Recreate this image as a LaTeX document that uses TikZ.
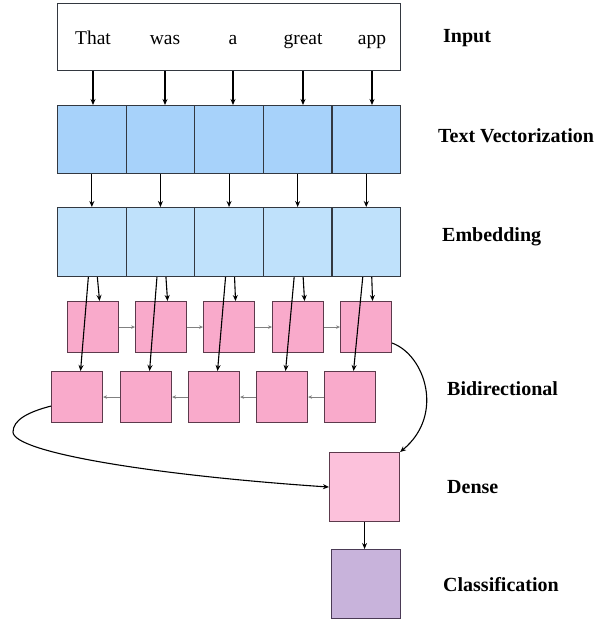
\documentclass[tikz,border=0pt]{standalone}
\usepackage{fontspec}
\setmainfont{Liberation Serif}
\usetikzlibrary{arrows.meta}
\definecolor{tvblue}{HTML}{A7D2FA}
\definecolor{embblue}{HTML}{BFE1FB}
\definecolor{bluedraw}{HTML}{333840}
\definecolor{rnnpink}{HTML}{F9AACB}
\definecolor{pinkdraw}{HTML}{5C3A4C}
\definecolor{densepink}{HTML}{FCC1DB}
\definecolor{classviolet}{HTML}{C8B3DB}
\definecolor{classdraw}{HTML}{4A3A55}
\definecolor{thingray}{HTML}{808080}
\begin{document}
\begin{tikzpicture}[x=1pt,y=-1pt,
  cell/.style={draw=bluedraw,line width=1.1pt,inner sep=0pt,anchor=north west,minimum width=68.6pt},
  tvcell/.style={cell,fill=tvblue,minimum height=68pt},
  embcell/.style={cell,fill=embblue,minimum height=69pt},
  rnn/.style={draw=pinkdraw,line width=1.1pt,fill=rnnpink,inner sep=0pt,anchor=north west,minimum width=51pt,minimum height=51pt},
  word/.style={font=\fontsize{19.5}{22}\selectfont,anchor=base,inner sep=0pt},
  lab/.style={font=\fontsize{20}{24}\selectfont\bfseries,anchor=base west,inner sep=0pt},
  arr/.style={line width=1.1pt,-{Stealth[length=6pt,width=5pt]}},
  harr/.style={draw=thingray,line width=0.8pt,-{Stealth[length=4pt,width=3.5pt]},shorten >=0pt},
]
\useasboundingbox (0,0) rectangle (597,620);
% input
\node[draw=bluedraw,line width=1.1pt,inner sep=0pt,anchor=north west,minimum width=343pt,minimum height=67pt] (in) at (57,3) {};
\node[word] (w1) at (93,45) {That};
\node[word] (w2) at (165,45) {was};
\node[word] (w3) at (233,45) {a};
\node[word] (w4) at (303,45) {great};
\node[word] (w5) at (372,45) {app};
% text vectorization
\foreach \i in {1,...,5}{
  \node[tvcell] (tv\i) at ({57+68.6*(\i-1)},105) {};
  \node[embcell] (emb\i) at ({57+68.6*(\i-1)},207) {};
}
\foreach \i in {1,...,5}{
  \draw[arr] (w\i |- in.south) -- (w\i |- tv\i.north);
  \draw[arr] (tv\i.south) -- (emb\i.north);
}
% bidirectional
\node[rnn] (fw1) at (67,301) {};
\node[rnn] (fw2) at (135,301) {};
\node[rnn] (fw3) at (203,301) {};
\node[rnn] (fw4) at (272,301) {};
\node[rnn] (fw5) at (340,301) {};
\node[rnn] (bw1) at (51,371) {};
\node[rnn] (bw2) at (120,371) {};
\node[rnn] (bw3) at (188,371) {};
\node[rnn] (bw4) at (256,371) {};
\node[rnn] (bw5) at (324,371) {};
\foreach \i in {1,...,5}{
  \draw[arr] ([xshift=5.5pt]emb\i.south) -- ([xshift=6.5pt]fw\i.north);
  \draw[arr] ([xshift=-3.5pt]emb\i.south) -- ([xshift=3.5pt]bw\i.north);
}
\foreach \i/\j in {1/2,2/3,3/4,4/5}{
  \draw[harr] (fw\i.east) -- (fw\j.west);
  \draw[harr] (bw\j.west) -- (bw\i.east);
}
% dense and classification
\node[draw=pinkdraw,line width=1.1pt,fill=densepink,inner sep=0pt,anchor=north west,minimum width=70pt,minimum height=69pt] (dense) at (329,452) {};
\node[draw=classdraw,line width=1.1pt,fill=classviolet,inner sep=0pt,anchor=north west,minimum width=69pt,minimum height=69pt] (cls) at (331,549) {};
\draw[arr] (dense.south) -- (dense.south |- cls.north);
% curves
\draw[arr] ([yshift=-16pt]fw5.east) .. controls (425,355) and (445,415) .. (dense.north east);
\draw[arr] ([yshift=-9pt]bw1.west) .. controls (28,412) and (13,420) .. (13,432)
  .. controls (13,452) and (150,475) .. (dense.west);
% labels
\node[lab] (l1) at (443,43) {Input};
\node[lab] (l2) at (438,143) {Text Vectorization};
\node[lab] (l3) at (442,241) {Embedding};
\node[lab] (l4) at (447,395) {Bidirectional};
\node[lab] (l5) at (447,493) {Dense};
\node[lab] (l6) at (443,591) {Classification};
\end{tikzpicture}
\end{document}
